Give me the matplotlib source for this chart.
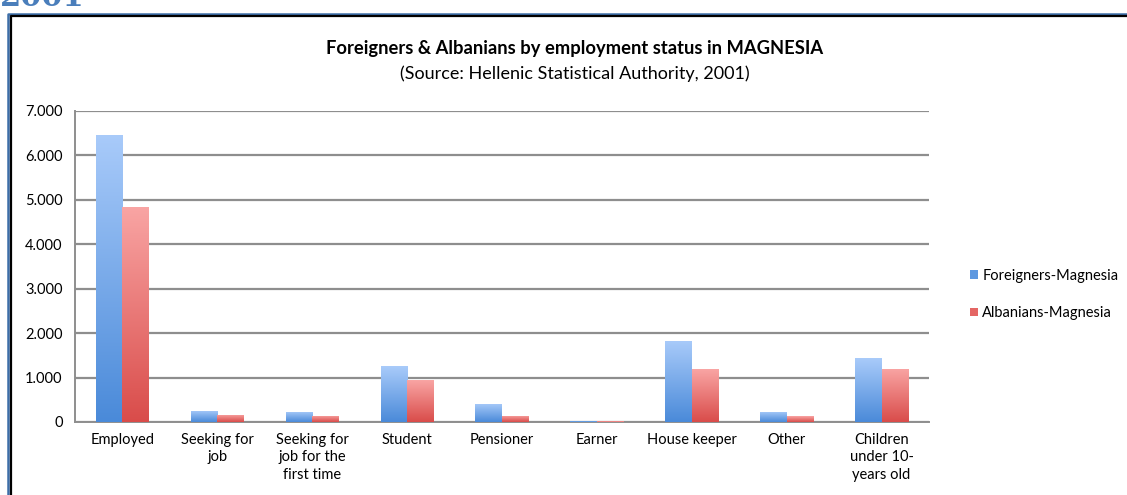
"""
Foreigners & Albanians by employment status in Magnesia (2001 census)
"""
import numpy as np
import matplotlib
matplotlib.use("Agg")
import matplotlib.pyplot as plt
from matplotlib.lines import Line2D
from matplotlib.patches import Patch
from matplotlib.colors import LinearSegmentedColormap
from matplotlib.ticker import FuncFormatter

categories = ["Employed", "Seeking for\njob", "Seeking for\njob for the\nfirst time",
              "Student", "Pensioner", "Earner", "House keeper", "Other",
              "Children\nunder 10-\nyears old"]
foreigners = [6460, 255, 235, 1250, 410, 30, 1830, 235, 1440]
albanians = [4840, 160, 145, 945, 145, 22, 1190, 130, 1200]
series_names = ["Foreigners-Magnesia", "Albanians-Magnesia"]
yticks = [0, 1000, 2000, 3000, 4000, 5000, 6000, 7000]

plt.rcParams['font.family'] = ['Lato', 'DejaVu Sans']

fig = plt.figure(figsize=(11.27, 4.95), dpi=100)
ax = fig.add_axes([0.0666, 0.1475, 0.7577, 0.6283])

x = np.arange(len(categories))
w = 0.28
blue_map = LinearSegmentedColormap.from_list("b", ["#4a8ad9", "#a9cbfa"])
red_map = LinearSegmentedColormap.from_list("r", ["#d94c4a", "#f9a5a4"])
grad = np.linspace(0, 1, 256).reshape(-1, 1)

def gradient_bars(xs, vals, cmap):
    bars = ax.bar(xs, vals, w, color="none", edgecolor="none", zorder=3)
    for b in bars:
        x0, y0 = b.get_x(), b.get_y()
        im = ax.imshow(grad, cmap=cmap, origin="lower", aspect="auto",
                       extent=[x0, x0 + b.get_width(), y0, y0 + b.get_height()],
                       zorder=3)
        im.set_clip_path(b)
    return bars

gradient_bars(x - w / 2, foreigners, blue_map)
gradient_bars(x + w / 2, albanians, red_map)

ax.set_xlim(-0.5, len(categories) - 0.5)
ax.set_ylim(0, 7000)
ax.set_yticks(yticks)
ax.yaxis.set_major_formatter(FuncFormatter(lambda v, p: f"{v:,.0f}".replace(",", ".")))
ax.set_xticks(x)
ax.set_xticklabels(categories, linespacing=1.3)
ax.tick_params(axis="both", length=0, labelsize=10.5, colors="black")
ax.tick_params(axis="x", pad=8)
ax.tick_params(axis="y", pad=9)
ax.grid(axis="y", color="#8e8e8e", linewidth=1.6, zorder=1)
for s in ["top", "right"]:
    ax.spines[s].set_visible(False)
for s in ["left", "bottom"]:
    ax.spines[s].set_color("#8e8e8e")
    ax.spines[s].set_linewidth(1.4)

fig.text(0.510, 0.903, "Foreigners & Albanians by employment status in MAGNESIA",
         ha="center", va="center", fontsize=13.2, fontweight="bold")
fig.text(0.510, 0.852, "(Source: Hellenic Statistical Authority, 2001)",
         ha="center", va="center", fontsize=13)

handles = [Patch(facecolor="#5d98e0"), Patch(facecolor="#e46664")]
fig.legend(handles, series_names, loc="center left", bbox_to_anchor=(0.849, 0.405),
           frameon=False, fontsize=10.5, handlelength=0.55, handleheight=0.55,
           handletextpad=0.3, labelspacing=1.6)

# page frame and the clipped heading above it
fig.add_artist(Line2D([8 / 1127, 8 / 1127, 1], [0, 1 - 13.5 / 495, 1 - 13.5 / 495],
                      transform=fig.transFigure, color="#3d6ea8", linewidth=1.8))
fig.add_artist(Line2D([10.5 / 1127, 10.5 / 1127, 1], [0, 1 - 16 / 495, 1 - 16 / 495],
                      transform=fig.transFigure, color="black", linewidth=1.6))
fig.text(0.0, 1 - 6 / 495, "2001", ha="left", va="baseline", fontsize=22,
         fontweight="bold", color="#4a7ebb", family="DejaVu Serif")

fig.savefig("out.png", dpi=100)
